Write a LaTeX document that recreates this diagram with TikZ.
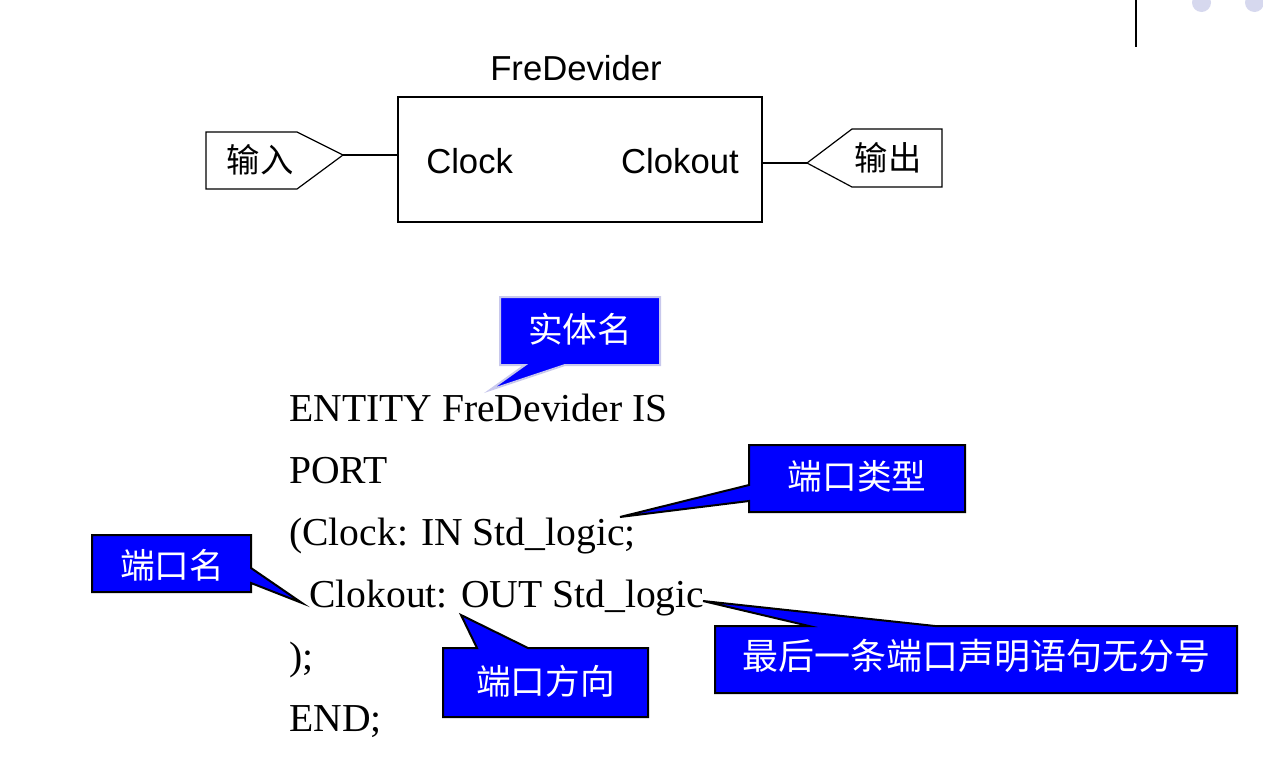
\documentclass[tikz,border=0pt]{standalone}
\usepackage{fontspec}
\setmainfont{Liberation Serif}
\setsansfont{Liberation Sans}
\newfontfamily\cjk{Noto Sans CJK SC}
\definecolor{callblue}{HTML}{0000FF}
\definecolor{lav}{HTML}{C8C8EC}
\definecolor{dotc}{HTML}{D6D8EE}
\begin{document}
\begin{tikzpicture}[x={(0.75pt,0)},y={(0,-0.75pt)},
  sanslbl/.style={inner sep=0pt,font=\sffamily\fontsize{26pt}{31pt}\selectfont},
  cjklbl/.style={inner sep=0pt,font=\cjk\fontsize{25pt}{30pt}\selectfont},
  codeline/.style={anchor=base west,inner sep=0pt,font=\rmfamily\fontsize{29.7pt}{36pt}\selectfont},
  calltext/.style={inner sep=0pt,text=white,font=\cjk\fontsize{26pt}{31pt}\selectfont},
  callshape/.style={fill=callblue,draw=black,line width=1.5pt,line join=miter},
  portline/.style={line width=0.9pt},
]
\useasboundingbox (0,0) rectangle (1263,782);
\begin{scope}
\clip (0,0) rectangle (1263,782);
\fill[dotc] (1201.5,2.5) circle (9.5);
\fill[dotc] (1254.5,2.5) circle (9.5);
\end{scope}
\draw[line width=1.5pt] (1136,0) -- (1136,47);

% entity block
\node[draw,line width=1.1pt,minimum width=273pt,minimum height=93.75pt,inner sep=0pt] (box) at (580,159.5) {};
\node[sanslbl,anchor=base] (title) at (576,80) {FreDevider};
\node[sanslbl,anchor=base west] (clk) at (426,173.5) {Clock};
\node[sanslbl,anchor=base east] (clkout) at (739,173.5) {Clokout};

% input port
\draw[portline] (206,132) -- (297,132) -- (343,155) coordinate (intip) -- (297,189) -- (206,189) -- cycle;
\node[cjklbl] (inlbl) at (260,160) {输入};
\draw[portline] (intip) -- (intip -| box.west);
% output port
\draw[portline] (942,129) -- (852,129) -- (807,163) coordinate (outtip) -- (852,187) -- (942,187) -- cycle;
\node[cjklbl] (outlbl) at (888,158) {输出};
\draw[portline] (outtip) -- (outtip -| box.east);

% code
\node[codeline] (l1) at (289,421) {ENTITY FreDevider IS};
\node[codeline] (l2) at (289,483) {PORT};
\node[codeline] (l3) at (289,545) {(Clock: IN Std\_logic;};
\node[codeline] (l4) at (309,607) {Clokout: OUT Std\_logic};
\node[codeline] (l5) at (289,669) {);};
\node[codeline] (l6) at (289,731) {END;};

% callouts
\draw[fill=callblue,draw=lav,line width=1.5pt] (500,297) -- (660,297) -- (660,365) -- (565,365) -- (490,390) -- (525,365) -- (500,365) -- cycle;
\node[calltext] (c1) at (580,329) {实体名};

\draw[callshape] (749,445) -- (965,445) -- (965,512) -- (749,512) -- (749,501) -- (620,517) -- (749,485) -- cycle;
\node[calltext] (c2) at (857,476) {端口类型};

\draw[callshape] (92,535) -- (251,535) -- (251,568) -- (302,603) -- (251,583) -- (251,592) -- (92,592) -- cycle;
\node[calltext] (c3) at (172,565) {端口名};

\draw[callshape] (443,648) -- (477,648) -- (461,615) -- (528,648) -- (648,648) -- (648,717) -- (443,717) -- cycle;
\node[calltext] (c4) at (545.5,681) {端口方向};

\draw[callshape] (715,626) -- (809,626) -- (703,601) -- (935,626) -- (1237,626) -- (1237,693) -- (715,693) -- cycle;
\node[calltext,font=\cjk\fontsize{27pt}{32pt}\selectfont] (c5) at (976.5,656) {最后一条端口声明语句无分号};
\end{tikzpicture}
\end{document}
